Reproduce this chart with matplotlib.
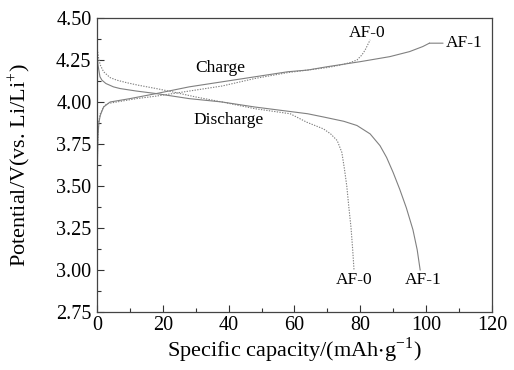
import matplotlib
matplotlib.use("Agg")
import matplotlib.pyplot as plt
from matplotlib.ticker import MultipleLocator

plt.rcParams['font.family'] = ['Liberation Serif', 'DejaVu Serif']
plt.rcParams['mathtext.fontset'] = 'stix'

# AF-1 charge (solid)
af1_charge_x = [0.0, 0.1, 0.3, 0.6, 1.0, 2.0, 4.0, 7, 10, 18, 28, 38, 48, 58, 64, 70, 80, 89, 95, 99, 101]
af1_charge_y = [3.45, 3.60, 3.80, 3.88, 3.92, 3.97, 4.00, 4.01, 4.02, 4.05, 4.09, 4.12, 4.15, 4.18, 4.19, 4.21, 4.24, 4.27, 4.30, 4.33, 4.35]

# AF-0 charge (dotted)
af0_charge_x = [0.0, 0.2, 0.5, 1, 2, 3, 6, 12, 18, 28, 38, 48, 58, 64, 70, 74, 77, 79, 80.5, 81.5, 82.5, 83]
af0_charge_y = [3.50, 3.75, 3.88, 3.93, 3.97, 3.99, 4.00, 4.02, 4.035, 4.065, 4.095, 4.14, 4.175, 4.19, 4.205, 4.22, 4.235, 4.25, 4.28, 4.31, 4.35, 4.37]

# AF-1 discharge (solid)
af1_dis_x = [0, 0.3, 0.9, 1.5, 2.7, 5, 7, 12, 18, 28, 38, 48, 58, 64, 69, 75, 79, 83, 86, 88, 90, 92, 94, 96, 97.3, 98.2]
af1_dis_y = [4.31, 4.22, 4.15, 4.13, 4.11, 4.09, 4.08, 4.065, 4.05, 4.02, 4.00, 3.97, 3.945, 3.93, 3.91, 3.885, 3.86, 3.81, 3.74, 3.67, 3.58, 3.48, 3.37, 3.24, 3.12, 3.0]

# AF-0 discharge (dotted)
af0_dis_x = [0, 0.5, 1, 2, 4, 6, 9, 12.5, 18, 23, 30, 38, 48, 58.7, 63.7, 68.8, 71, 73, 74.4, 75.2, 75.9, 76.5, 77.2, 77.7, 78.1]
af0_dis_y = [4.33, 4.26, 4.22, 4.18, 4.145, 4.13, 4.115, 4.10, 4.08, 4.06, 4.03, 4.00, 3.96, 3.93, 3.88, 3.84, 3.81, 3.77, 3.70, 3.60, 3.50, 3.38, 3.25, 3.12, 3.0]

x_ticks = [0, 20, 40, 60, 80, 100, 120]
y_ticks = [2.75, 3.00, 3.25, 3.50, 3.75, 4.00, 4.25, 4.50]

fig = plt.figure(figsize=(5.14, 3.70), dpi=100)
ax = fig.add_axes([0.1887, 0.1568, 0.7683, 0.7946])

lc = '#808080'
ax.plot(af1_charge_x, af1_charge_y, color=lc, lw=0.8, ls='-')
ax.plot(af1_dis_x, af1_dis_y, color=lc, lw=0.8, ls='-')
ax.plot(af0_charge_x, af0_charge_y, color=lc, lw=0.8, ls=(0, (1.2, 1.2)))
ax.plot(af0_dis_x, af0_dis_y, color=lc, lw=0.8, ls=(0, (1.2, 1.2)))

ax.set_xlim(0, 120)
ax.set_ylim(2.75, 4.50)
ax.set_xticks(x_ticks)
ax.set_yticks(y_ticks)
ax.set_yticklabels([f"{v:.2f}" for v in y_ticks])
ax.xaxis.set_minor_locator(MultipleLocator(10))
ax.yaxis.set_minor_locator(MultipleLocator(0.125))
ax.tick_params(which='both', direction='in', top=False, right=False, labelsize=14.5, color='#333333')
ax.tick_params(which='major', length=5, width=0.8)
ax.tick_params(which='minor', length=3, width=0.8)
ax.tick_params(axis='x', pad=3)
ax.tick_params(axis='y', pad=4)
for s in ax.spines.values():
    s.set_color('#444444')
    s.set_linewidth(0.9)

ax.set_xlabel(r"Specific capacity/(mAh$\cdot$g$^{\mathregular{-1}}$)", fontsize=16, va='center')
ax.set_ylabel(r"Potential/V(vs. Li/Li$^{\mathregular{+}}$)", fontsize=16, va='center')
ax.xaxis.set_label_coords(0.5, (312 - 350) / 294)
ax.yaxis.set_label_coords((20 - 97) / 395, 0.5)

fs = 12.5
ax.text(37.4, 4.20, "Charge", fontsize=fs, ha='center', va='center')
ax.text(40, 3.89, "Discharge", fontsize=fs, ha='center', va='center')
ax.text(82, 4.41, "AF-0", fontsize=fs, ha='center', va='center')
ax.annotate("AF-1", xy=(101, 4.35), xytext=(106, 4.35), fontsize=fs, ha='left', va='center',
            arrowprops=dict(arrowstyle='-', color=lc, lw=0.8, shrinkA=0, shrinkB=0))
ax.text(78, 2.94, "AF-0", fontsize=fs, ha='center', va='center')
ax.text(99, 2.94, "AF-1", fontsize=fs, ha='center', va='center')

fig.savefig("out.png", dpi=100)
